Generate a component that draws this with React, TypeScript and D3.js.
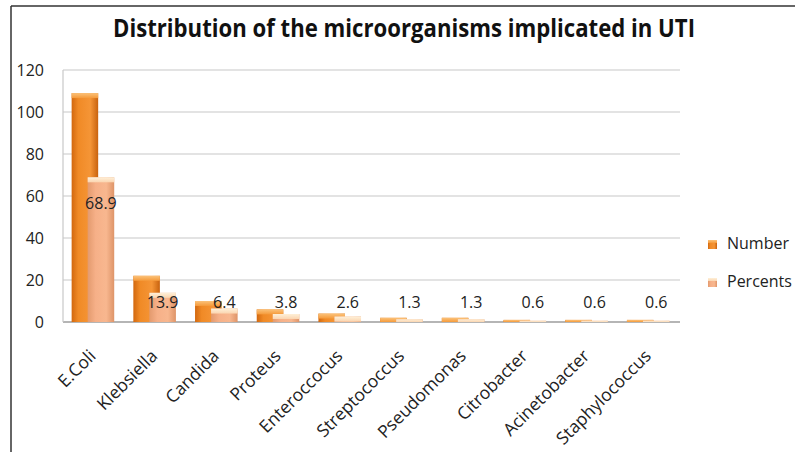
import React from "react";
import * as d3 from "d3";

const title = "Distribution of the microorganisms implicated in UTI";
const categories = [
  "E.Coli", "Klebsiella", "Candida", "Proteus", "Enteroccocus",
  "Streptococcus", "Pseudomonas", "Citrobacter", "Acinetobacter", "Staphylococcus",
];
const numbers = [109, 22, 10, 6, 4, 2, 2, 1, 1, 1];
const percents = [68.9, 13.9, 6.4, 3.8, 2.6, 1.3, 1.3, 0.6, 0.6, 0.6];
const yTicks = [0, 20, 40, 60, 80, 100, 120];
const seriesNames = ["Number", "Percents"];

const W = 795;
const H = 452;
const font = "'Open Sans', 'Liberation Sans', sans-serif";

export default function App() {
  const x = d3.scaleBand<string>().domain(categories).range([63, 680]).padding(0);
  const y = d3.scaleLinear().domain([0, 120]).range([322, 70]);
  const bw = x.bandwidth();

  // bar offsets inside a band (bars overlap like the 3D excel chart)
  const numX = (c: string) => (x(c) as number) + bw * 0.14;
  const pctX = (c: string) => (x(c) as number) + bw * 0.4;
  const barW = bw * 0.43;

  const bar = (bx: number, v: number, fill: string, cap: string, key: string) => {
    const top = y(v);
    const h = y(0) - top;
    const capH = Math.min(5, h);
    return (
      <g key={key}>
        <rect x={bx} y={top} width={barW} height={h} fill={fill} />
        <rect x={bx} y={top} width={barW} height={capH} fill={cap} />
      </g>
    );
  };

  return (
    <div style={{ position: "absolute", left: 0, top: 0 }}>
      <svg width={W} height={H} style={{ display: "block", background: "#fff" }}>
        <defs>
          <linearGradient id="gNum" x1="0" x2="1" y1="0" y2="0">
            <stop offset="0" stopColor="#D2680F" />
            <stop offset="0.25" stopColor="#F08A26" />
            <stop offset="0.7" stopColor="#F59536" />
            <stop offset="1" stopColor="#C8620E" />
          </linearGradient>
          <linearGradient id="gNumCap" x1="0" x2="0" y1="0" y2="1">
            <stop offset="0" stopColor="#FBC27A" />
            <stop offset="1" stopColor="#F59A3A" />
          </linearGradient>
          <linearGradient id="gPct" x1="0" x2="1" y1="0" y2="0">
            <stop offset="0" stopColor="#E39A6E" />
            <stop offset="0.3" stopColor="#F6B088" />
            <stop offset="0.7" stopColor="#F8B78F" />
            <stop offset="1" stopColor="#DE9468" />
          </linearGradient>
          <linearGradient id="gPctCap" x1="0" x2="0" y1="0" y2="1">
            <stop offset="0" stopColor="#FEF0D8" />
            <stop offset="1" stopColor="#FBD5B0" />
          </linearGradient>
        </defs>

        {/* outer frame (top and left only) */}
        <line x1={11} x2={W} y1={6} y2={6} stroke="#333" strokeWidth={1.5} />
        <line x1={11} x2={11} y1={6} y2={H} stroke="#333" strokeWidth={1.5} />

        <text
          x={404}
          y={37}
          textAnchor="middle"
          fontFamily={font}
          fontWeight="bold"
          fontSize={25}
          textLength={582}
          lengthAdjust="spacingAndGlyphs"
          fill="#111"
        >
          {title}
        </text>

        {/* gridlines */}
        {yTicks.map((t) => (
          <line key={t} x1={63} x2={680} y1={y(t)} y2={y(t)} stroke={t === 0 ? "#b5b5b5" : "#c8c8c8"} strokeWidth={t === 0 ? 2 : 1.2} />
        ))}
        <line x1={63} x2={63} y1={y(120)} y2={y(0)} stroke="#c8c8c8" strokeWidth={1.2} />

        {yTicks.map((t) => (
          <text key={"l" + t} x={44} y={y(t)} dy="0.35em" textAnchor="end" fontFamily={font} fontSize={16} fill="#222">
            {t}
          </text>
        ))}

        {categories.map((c, i) => (
          <g key={c}>
            {bar(numX(c), numbers[i], "url(#gNum)", "url(#gNumCap)", "n" + c)}
            {bar(pctX(c), percents[i], "url(#gPct)", "url(#gPctCap)", "p" + c)}
          </g>
        ))}

        {categories.map((c, i) => (
          <text
            key={"d" + c}
            x={pctX(c) + barW / 2}
            y={Math.min(y(percents[i]) + 32, 308)}
            textAnchor="middle"
            fontFamily={font}
            fontSize={16}
            fill="#222"
          >
            {percents[i]}
          </text>
        ))}

        {categories.map((c) => {
          const cx = (x(c) as number) + bw / 2;
          return (
            <text
              key={"x" + c}
              transform={`translate(${cx + 3},${357}) rotate(-45)`}
              textAnchor="end"
              fontFamily={font}
              fontSize={17.5}
              fill="#222"
            >
              {c}
            </text>
          );
        })}

        {seriesNames.map((s, i) => (
          <g key={s} transform={`translate(708,${240 + i * 38})`}>
            <rect width={9} height={9} fill={i === 0 ? "url(#gNum)" : "url(#gPct)"} />
            <rect width={9} height={3} fill={i === 0 ? "url(#gNumCap)" : "url(#gPctCap)"} />
            <text x={19} y={9} fontFamily={font} fontSize={16} fill="#222">
              {s}
            </text>
          </g>
        ))}
      </svg>
    </div>
  );
}
